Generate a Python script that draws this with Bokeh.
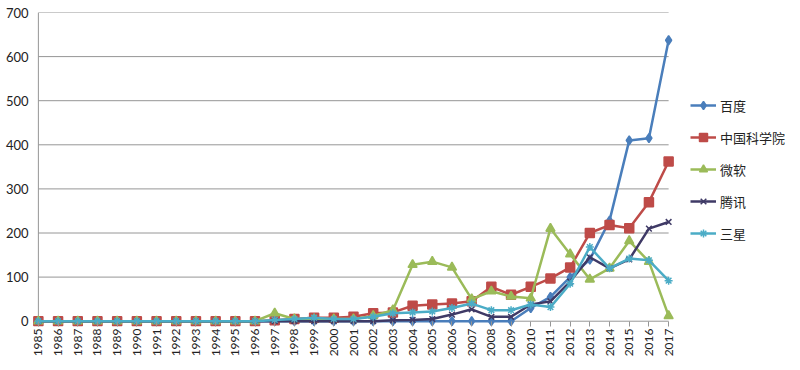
from bokeh.plotting import figure
from bokeh.models import (ColumnDataSource, Legend, LegendItem, FixedTicker, Range1d)
from bokeh.embed import file_html
from bokeh.resources import INLINE
import math

years = list(range(1985, 2018))
baidu = [0]*25 + [30, 55, 100, 140, 228, 410, 415, 637]
cas = [0]*12 + [2, 5, 8, 8, 10, 18, 20, 35, 38, 40, 45, 78, 60, 78, 97, 122, 200, 218, 211, 270, 362]
microsoft = [0]*12 + [18, 5, 5, 5, 5, 12, 25, 128, 135, 122, 50, 68, 56, 52, 210, 152, 95, 120, 182, 135, 12]
tencent = [0]*18 + [2, 3, 5, 15, 27, 10, 10, 38, 45, 90, 145, 120, 140, 210, 225]
samsung = [0]*12 + [3, 5, 8, 5, 5, 10, 18, 20, 22, 30, 40, 25, 25, 38, 32, 85, 168, 120, 142, 138, 92]
names = ["百度", "中国科学院", "微软", "腾讯", "三星"]
y_ticks = [0, 100, 200, 300, 400, 500, 600, 700]

colors = ["#4A7EBB", "#BE4B48", "#9BBB59", "#3F3A66", "#4BACC6"]
series = [baidu, cas, microsoft, tencent, samsung]
markers = ["diamond", "square", "triangle", "x", "asterisk"]
msizes = [9, 9, 9, 8, 8]
GRID = "#969696"

p = figure(frame_width=646, frame_height=314, output_backend="svg", toolbar_location=None,
           x_range=Range1d(years[0] - 0.4, years[-1] + 0.4),
           y_range=Range1d(-12, y_ticks[-1]),
           min_border_left=30, min_border_right=10, min_border_top=12, min_border_bottom=44)
p.outline_line_color = None
p.xgrid.grid_line_color = None
p.ygrid.grid_line_color = None

# horizontal gridlines and axis lines spanning the category extent only
n = len(y_ticks)
p.segment(x0=[years[0]] * n, x1=[years[-1]] * n, y0=y_ticks, y1=y_ticks,
          line_color=GRID, line_width=1)
p.segment(x0=[years[0]], x1=[years[0]], y0=[y_ticks[0]], y1=[y_ticks[-1]],
          line_color=GRID, line_width=1)

p.yaxis.ticker = FixedTicker(ticks=y_ticks)
p.yaxis.axis_line_color = None
p.yaxis.major_tick_line_color = None
p.yaxis.major_tick_out = 0
p.yaxis.major_tick_in = 0
p.yaxis.minor_tick_line_color = None
p.yaxis.minor_tick_out = 0
p.yaxis.major_label_text_font = "Lato"
p.yaxis.major_label_text_font_size = "13px"
p.yaxis.major_label_text_color = "#222222"
p.yaxis.major_label_standoff = 2

p.xaxis.ticker = FixedTicker(ticks=years)
p.xaxis.major_label_overrides = {y: str(y) for y in years}
p.xaxis.major_label_orientation = math.pi / 2
p.xaxis.axis_line_color = None
p.xaxis.major_tick_line_color = GRID
p.xaxis.major_tick_out = 0
p.xaxis.major_tick_in = 5
p.xaxis.minor_tick_line_color = None
p.xaxis.minor_tick_out = 0
p.xaxis.major_label_text_font = "Lato"
p.xaxis.major_label_text_font_size = "12px"
p.xaxis.major_label_text_color = "#222222"
p.xaxis.major_label_standoff = 2

items = []
for name, vals, c, m, s in zip(names, series, colors, markers, msizes):
    src = ColumnDataSource(dict(x=years, y=vals))
    r1 = p.line("x", "y", source=src, line_color=c, line_width=2.5)
    r2 = p.scatter("x", "y", source=src, marker=m, size=s, fill_color=c,
                   line_color=c, line_width=1.5)
    items.append(LegendItem(label=name, renderers=[r1, r2]))

legend = Legend(items=items, location="center_left", orientation="vertical",
                padding=0, margin=14, spacing=12, label_height=20, glyph_height=20,
                glyph_width=26, label_standoff=4,
                label_text_font="Noto Sans CJK SC", label_text_font_size="13px",
                label_text_color="#222222",
                border_line_color=None, background_fill_alpha=0)
p.add_layout(legend, "right")

open("out.html", "w").write(file_html(p, INLINE))
